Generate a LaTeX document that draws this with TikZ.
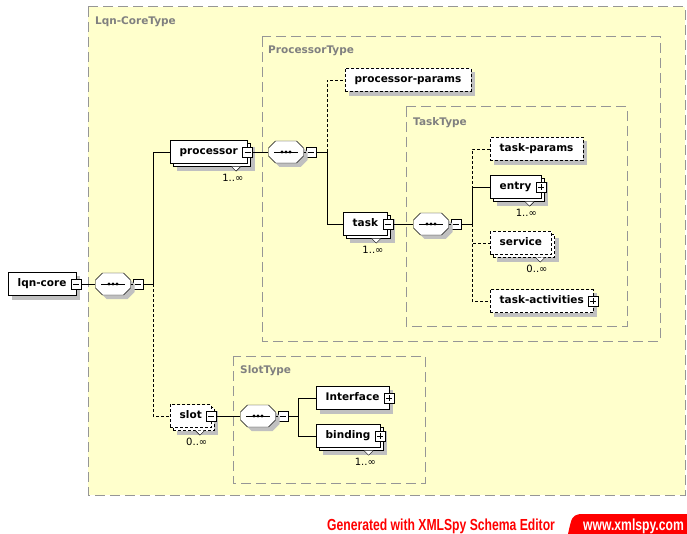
\documentclass[tikz,border=0pt]{standalone}
\usepackage{fontspec}
\setmainfont{DejaVu Sans}
\newfontfamily\spyfont{Liberation Sans}
\usepackage{tikz}
\usetikzlibrary{shadows}

\definecolor{typefill}{RGB}{255,255,204}
\definecolor{typeline}{RGB}{150,150,150}
\definecolor{typetext}{RGB}{128,128,128}
\definecolor{shadowgray}{RGB}{192,192,192}

\pgfdeclarelayer{types}
\pgfdeclarelayer{shadows}
\pgfsetlayers{types,shadows,main}

\tikzset{
	typebox/.style={draw=typeline, fill=typefill, line width=1pt, dash pattern=on 10pt off 5pt},
	typename/.style={anchor=north west, inner sep=0pt, text=typetext, font=\bfseries\fontsize{10.5}{12}\selectfont},
	elem/.style={draw, fill=white, anchor=west, minimum height=23pt, inner xsep=9.5pt, inner ysep=0pt,
		text height=8pt, text depth=2.5pt, font=\bfseries\fontsize{10.5}{12}\selectfont},
	elems/.style={elem, copy shadow={shadow xshift=3pt, shadow yshift=-3pt, fill=white, draw=black}},
	opt/.style={dash pattern=on 3pt off 2pt},
	seq/.style={minimum width=35pt, minimum height=22pt, inner sep=0pt},
	togglebox/.style={draw, fill=white, minimum size=10pt, inner sep=0pt},
	collapse/.style={togglebox, path picture={
			\draw ([xshift=2pt]path picture bounding box.west) -- ([xshift=-2pt]path picture bounding box.east);
		}},
	expand/.style={togglebox, path picture={
			\draw ([xshift=2pt]path picture bounding box.west) -- ([xshift=-2pt]path picture bounding box.east);
			\draw ([yshift=-2pt]path picture bounding box.north) -- ([yshift=2pt]path picture bounding box.south);
		}},
	occurs/.style={anchor=north east, inner sep=0pt, font=\fontsize{10}{12}\selectfont},
}

\def\octagon{(-17.5,-4) -- (-10.5,-11) -- (10.5,-11) -- (17.5,-4) -- (17.5,4) -- (10.5,11) -- (-10.5,11) -- (-17.5,4) -- cycle}

\begin{document}
\begin{tikzpicture}[x=1pt, y=-1pt, line width=0.8pt]
	\useasboundingbox (0,0) rectangle (687,534);

	\begin{pgfonlayer}{types}
		\draw[typebox] (88,7) rectangle (685,495);
		\node[typename] (coretype) at (95,17) {Lqn-CoreType};
		\draw[typebox] (262,37) rectangle (660,341);
		\node[typename] (proctype) at (268,46) {ProcessorType};
		\draw[typebox] (406,107) rectangle (627,326);
		\node[typename] (tasktype) at (413,117) {TaskType};
		\draw[typebox] (233,356) rectangle (425,483);
		\node[typename] (slottype) at (240,365) {SlotType};
	\end{pgfonlayer}

	\node[elem] (lqncore) at (8,284) {lqn-core};
	\node[collapse] (lqncore-t) at (lqncore.east) {};
	\node[seq] (seqcore) at (113,284) {};
	\node[collapse, anchor=west] (seqcore-t) at ([xshift=2pt]seqcore.east) {};
	\coordinate (jcore) at (153,284);

	\node[elems] (processor) at (170,152) {processor};
	\node[collapse] (processor-t) at (processor.east) {};
	\node[seq] (seqproc) at (286,152) {};
	\node[collapse, anchor=west] (seqproc-t) at ([xshift=2pt]seqproc.east) {};
	\coordinate (jproc) at (327,152);

	\node[elem, opt] (procparams) at (345,80) {processor-params};
	\node[elems] (task) at (343,224) {task};
	\node[collapse] (task-t) at (task.east) {};
	\node[seq] (seqtask) at (431,224) {};
	\node[collapse, anchor=west] (seqtask-t) at ([xshift=2pt]seqtask.east) {};
	\coordinate (jtask) at (472,224);

	\node[elem, opt] (taskparams) at (490,149) {task-params};
	\node[elems] (entry) at (490,187) {entry};
	\node[expand] (entry-t) at (entry.east) {};
	\node[elems, opt] (service) at (490,243) {service};
	\node[elem, opt] (taskacts) at (490,301) {task-activities};
	\node[expand] (taskacts-t) at (taskacts.east) {};

	\node[elems, opt] (slot) at (170,416) {slot};
	\node[collapse] (slot-t) at (slot.east) {};
	\node[seq] (seqslot) at (258,416) {};
	\node[collapse, anchor=west] (seqslot-t) at ([xshift=2pt]seqslot.east) {};
	\coordinate (jslot) at (298,416);

	\node[elem] (interface) at (316,398) {Interface};
	\node[expand] (interface-t) at (interface.east) {};
	\node[elems] (binding) at (316,436) {binding};
	\node[expand] (binding-t) at (binding.east) {};

	\begin{pgfonlayer}{shadows}
		\foreach \n/\o in {lqncore/4, procparams/4, taskparams/4, taskacts/4, interface/4,
			processor/7, task/7, entry/7, service/7, slot/7, binding/7}
			\fill[shadowgray] ([xshift=\o pt, yshift=-\o pt]\n.north west) rectangle ([xshift=\o pt, yshift=-\o pt]\n.south east);
	\end{pgfonlayer}

	\foreach \s in {seqcore, seqproc, seqtask, seqslot}
	{
		\begin{scope}[shift={(\s.center)}]
			\fill[shadowgray, shift={(4,4)}] \octagon;
			\draw[fill=white] \octagon;
			\draw (-12,0) -- (12,0);
			\foreach \d in {-4,0,4}
				\fill (\d,0) circle (1.6pt);
		\end{scope}
	}

	\foreach \n/\m in {processor/1..∞, task/1..∞, entry/1..∞, service/0..∞, slot/0..∞, binding/1..∞}
	{
		\draw[fill=white] ([xshift=-16pt, yshift=-3pt]\n.south east) -- ++(4.5,4.5) -- ++(4.5,-4.5);
		\node[occurs] (\n-occ) at ([xshift=-4pt, yshift=-10pt]\n.south east) {\m};
	}

	\draw (lqncore-t.east) -- (seqcore.west);
	\draw (seqcore.east) -- (seqcore-t.west);
	\draw (seqcore-t.east) -- (jcore);
	\draw[opt] (jcore) |- (slot.west);
	\draw (jcore) |- (processor.west);

	\draw (processor-t.east) -- (seqproc.west);
	\draw (seqproc.east) -- (seqproc-t.west);
	\draw (seqproc-t.east) -- (jproc);
	\draw[opt] (jproc) |- (procparams.west);
	\draw (jproc) |- (task.west);

	\draw (task-t.east) -- (seqtask.west);
	\draw (seqtask.east) -- (seqtask-t.west);
	\draw (seqtask-t.east) -- (jtask);
	\draw[opt] (jtask) |- (taskparams.west);
	\draw[opt] (jtask) |- (service.west);
	\draw[opt] (jtask) |- (taskacts.west);
	\draw (jtask) |- (entry.west);

	\draw (slot-t.east) -- (seqslot.west);
	\draw (seqslot.east) -- (seqslot-t.west);
	\draw (seqslot-t.east) -- (jslot);
	\draw (jslot) |- (interface.west);
	\draw (jslot) |- (binding.west);

	\node[anchor=base west, inner sep=0pt, text=red, font=\spyfont\bfseries\fontsize{16}{16}\selectfont] (generated) at (327,530)
		{\scalebox{0.76}[1]{Generated with XMLSpy Schema Editor}};
	\fill[red] (568,534) .. controls (572,516) .. (580,514) -- (687,514) -- (687,534) -- cycle;
	\node[anchor=base east, inner sep=0pt, text=white, font=\spyfont\bfseries\fontsize{16}{16}\selectfont] (spyurl) at (684,530)
		{\scalebox{0.76}[1]{www.xmlspy.com}};
\end{tikzpicture}
\end{document}
